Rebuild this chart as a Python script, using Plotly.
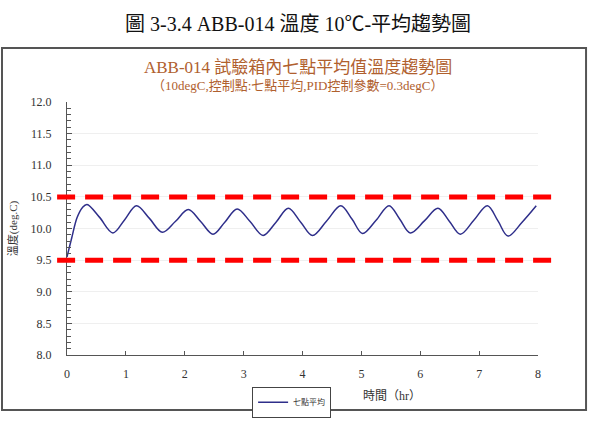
import plotly.graph_objects as go

# ---- data ----
hours = [0, 0.08, 0.17, 0.26, 0.34, 0.55, 0.78, 0.98, 1.18, 1.40, 1.62, 1.84, 2.06, 2.27, 2.48,
         2.68, 2.89, 3.11, 3.33, 3.55, 3.76, 3.97, 4.17, 4.41, 4.65, 4.84, 5.02, 5.25, 5.47,
         5.65, 5.83, 6.07, 6.30, 6.49, 6.68, 6.91, 7.14, 7.32, 7.49, 7.73, 7.97]
temp_avg = [9.55, 9.85, 10.17, 10.33, 10.38, 10.18, 9.93, 10.14, 10.36, 10.16, 9.94, 10.11, 10.30,
            10.11, 9.91, 10.10, 10.31, 10.11, 9.89, 10.10, 10.32, 10.10, 9.89, 10.12, 10.36,
            10.15, 9.92, 10.13, 10.36, 10.15, 9.93, 10.12, 10.32, 10.12, 9.91, 10.13, 10.36,
            10.12, 9.88, 10.10, 10.36]
limits = [9.5, 10.5]
x_ticks = [0, 1, 2, 3, 4, 5, 6, 7, 8]
y_ticks = [8.0, 8.5, 9.0, 9.5, 10.0, 10.5, 11.0, 11.5, 12.0]
y_tick_labels = ["8.0", "8.5", "9.0", "9.5", "10.0", "10.5", "11.0", "11.5", "12.0"]

series_name = "七點平均"
fig_title = "圖 3-3.4 ABB-014 溫度 10℃-平均趨勢圖"
chart_title = "ABB-014 試驗箱內七點平均值溫度趨勢圖"
chart_sub = "（10degC,控制點:七點平均,PID控制參數=0.3degC）"
x_title = "時間（hr）"
y_title = "溫度(deg.C)"

FONT = "Liberation Serif, Noto Sans CJK TC, serif"
BROWN = "#b0602e"

fig = go.Figure()
fig.add_trace(go.Scatter(
    x=hours, y=temp_avg, mode="lines", name=series_name,
    line=dict(color="#2e2e8a", width=1.5, shape="spline", smoothing=1.0),
))

for lv in limits:
    fig.add_shape(type="line", xref="paper", yref="y", x0=-0.021, x1=1.032, y0=lv, y1=lv,
                  line=dict(color="#ff0000", width=5, dash="18px,10px"), layer="above")

# outer frame
fig.add_shape(type="rect", xref="paper", yref="paper", x0=-0.138, x1=1.102, y0=-0.217, y1=1.213,
              line=dict(color="#555555", width=2), layer="below")

fig.update_layout(
    width=594, height=433,
    margin=dict(l=67, r=56, t=102, b=78),
    paper_bgcolor="white", plot_bgcolor="white",
    font=dict(family=FONT, size=11, color="#333333"),
    showlegend=True,
    legend=dict(orientation="h", x=0.393, y=-0.125, xanchor="left", yanchor="top",
                bordercolor="#444444", borderwidth=1, font=dict(size=8, color="#333333"),
                itemwidth=30, tracegroupgap=0),
    xaxis=dict(range=[0, 8], tickvals=x_ticks, ticks="inside", ticklen=4, tickcolor="#555555",
               showline=True, linecolor="#555555", linewidth=1, showgrid=False, zeroline=False,
               tickfont=dict(size=12, color="#333333"), ticklabelstandoff=8),
    yaxis=dict(range=[8, 12], tickvals=y_ticks, ticktext=y_tick_labels, ticks="inside",
               ticklen=5, tickcolor="#555555", showline=True, linecolor="#555555", linewidth=1,
               showgrid=True, gridcolor="#efefef", zeroline=False,
               tickfont=dict(size=12, color="#333333"), ticklabelstandoff=12,
               minor=dict(dtick=0.1, ticks="inside", ticklen=4, tickcolor="#555555", showgrid=False),
               title=dict(text=y_title, font=dict(size=11, color="#333333"), standoff=10)),
    annotations=[
        dict(text=fig_title, xref="paper", yref="paper", x=0.49, y=1.31, xanchor="center",
             yanchor="middle", showarrow=False, font=dict(size=20, color="#111111", family=FONT)),
        dict(text=chart_title, xref="paper", yref="paper", x=0.49, y=1.135, xanchor="center",
             yanchor="middle", showarrow=False, font=dict(size=17, color=BROWN, family=FONT)),
        dict(text=chart_sub, xref="paper", yref="paper", x=0.49, y=1.065, xanchor="center",
             yanchor="middle", showarrow=False, font=dict(size=13, color=BROWN, family=FONT)),
        dict(text=x_title, xref="paper", yref="paper", x=0.69, y=-0.163, xanchor="center",
             yanchor="middle", showarrow=False, font=dict(size=12, color="#333333", family=FONT)),
    ],
)

fig.write_html("out.html")
